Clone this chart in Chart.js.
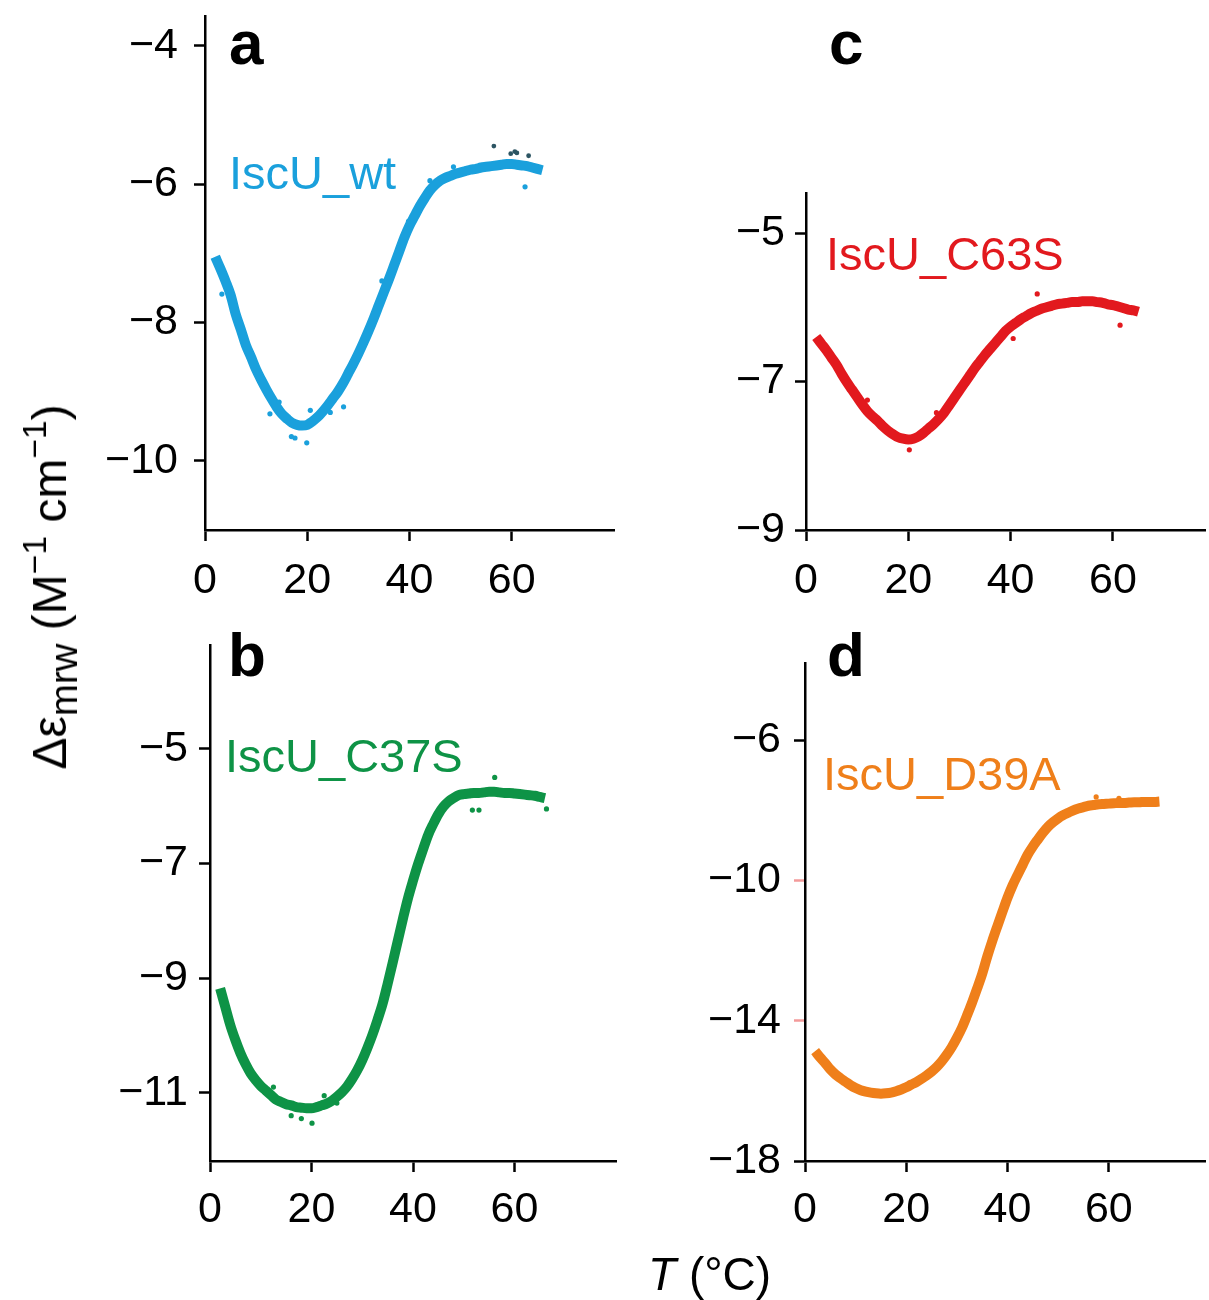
<!DOCTYPE html>
<html><head><meta charset="utf-8">
<script src="https://cdn.jsdelivr.net/npm/chart.js@4/dist/chart.umd.min.js"></script>
<style>
html,body{margin:0;padding:0;background:#fff;}
body{width:1209px;height:1300px;position:relative;overflow:hidden;font-family:"Liberation Sans",Arial,sans-serif;}
canvas{position:absolute;}
.lbl{position:absolute;white-space:nowrap;line-height:1;}
.panel{font-weight:bold;font-size:62px;color:#000;}
.series{font-size:47px;}
.ytitle{font-size:48px;color:#000;transform:translate(-50%,-50%) rotate(-90deg);}
.ytitle sub,.ytitle sup{line-height:0;position:relative;vertical-align:baseline;}
.ytitle sub{font-size:80%;top:0.28em;}
.ytitle sup{font-size:70%;top:-0.6em;}
.xtitle{font-size:46px;color:#000;}
</style></head><body>
<canvas id="ca" style="left:0;top:0" width="620" height="620"></canvas>
<canvas id="cc" style="left:600px;top:0" width="609" height="620"></canvas>
<canvas id="cb" style="left:0;top:620px" width="620" height="680"></canvas>
<canvas id="cd" style="left:600px;top:620px" width="609" height="680"></canvas>

<div class="lbl panel" style="left:229px;top:12px">a</div>
<div class="lbl panel" style="left:829px;top:12px">c</div>
<div class="lbl panel" style="left:228px;top:624px">b</div>
<div class="lbl panel" style="left:827px;top:624px">d</div>

<div class="lbl series" style="left:229px;top:149px;color:#1aa0dc">IscU_wt</div>
<div class="lbl series" style="left:826px;top:230px;color:#e2191e">IscU_C63S</div>
<div class="lbl series" style="left:225px;top:732px;color:#0e9346">IscU_C37S</div>
<div class="lbl series" style="left:823px;top:750px;color:#ef7f1a">IscU_D39A</div>

<div class="lbl ytitle" style="left:50px;top:587px">Δε<sub>mrw</sub> (M<sup>−1</sup> cm<sup>−1</sup>)</div>
<div class="lbl xtitle" style="left:648px;top:1251px"><i>T</i> (°C)</div>

<script>
// ---- data ----
const xTicks = [0, 20, 40, 60];
const yTicksA = [-10, -8, -6, -4];
const yTicksB = [-11, -9, -7, -5];
const yTicksC = [-9, -7, -5];
const yTicksD = [-18, -14, -10, -6];

const tempA = [2,3,4,5,6,7,8,9,10,11,12,13,14,15,16,17,18,19,20,21,22,23,24,25,26,27,28,29,30,31,32,33,34,35,36,37,38,39,40,41,42,43,44,45,46,47,48,49,50,51,52,53,54,55,56,57,58,59,60,61,62,63,64,65,66];
const wtVals = [-7.05,-7.22,-7.40,-7.60,-7.88,-8.10,-8.33,-8.50,-8.68,-8.83,-8.97,-9.10,-9.22,-9.32,-9.39,-9.45,-9.48,-9.49,-9.48,-9.43,-9.37,-9.29,-9.20,-9.10,-9.00,-8.88,-8.74,-8.60,-8.45,-8.29,-8.12,-7.94,-7.75,-7.56,-7.37,-7.17,-6.97,-6.77,-6.60,-6.46,-6.32,-6.20,-6.09,-6.01,-5.95,-5.91,-5.88,-5.85,-5.83,-5.81,-5.79,-5.78,-5.76,-5.75,-5.74,-5.73,-5.72,-5.71,-5.71,-5.72,-5.73,-5.74,-5.76,-5.78,-5.80];
const wtOutT = [3.3, 12.7, 16.9, 17.6, 19.9, 20.6, 27.1, 34.6, 39.8, 44.0, 48.6, 62.6, 14.5, 24.5];
const wtOutV = [-7.59, -9.32, -9.65, -9.67, -9.74, -9.27, -9.22, -7.40, -6.54, -5.95, -5.75, -6.04, -9.15, -9.30];
const wtDarkT = [56.5, 59.8, 60.6, 61.0, 63.3];
const wtDarkV = [-5.45, -5.56, -5.53, -5.55, -5.59];

const tempB = [2,3,4,5,6,7,8,9,10,11,12,13,14,15,16,17,18,19,20,21,22,23,24,25,26,27,28,29,30,31,32,33,34,35,36,37,38,39,40,41,42,43,44,45,46,47,48,49,50,51,52,53,54,55,56,57,58,59,60,61,62,63,64,65,66];
const c37Vals = [-9.18,-9.50,-9.82,-10.08,-10.31,-10.50,-10.66,-10.78,-10.88,-10.96,-11.04,-11.12,-11.16,-11.20,-11.22,-11.25,-11.26,-11.27,-11.27,-11.25,-11.22,-11.19,-11.14,-11.07,-10.99,-10.89,-10.76,-10.61,-10.43,-10.22,-9.99,-9.73,-9.45,-9.10,-8.73,-8.35,-7.97,-7.61,-7.30,-7.01,-6.75,-6.50,-6.31,-6.14,-6.01,-5.92,-5.86,-5.81,-5.79,-5.78,-5.77,-5.77,-5.76,-5.75,-5.75,-5.76,-5.77,-5.77,-5.78,-5.79,-5.80,-5.81,-5.82,-5.84,-5.86];
const c37OutT = [56.1, 53.0, 51.7, 66.3, 20.1, 18.0, 12.5, 22.5, 16.0, 25.0];
const c37OutV = [-5.50, -6.07, -6.07, -6.05, -11.53, -11.45, -10.90, -11.05, -11.40, -11.18];

const tempC = [2,3,4,5,6,7,8,9,10,11,12,13,14,15,16,17,18,19,20,21,22,23,24,25,26,27,28,29,30,31,32,33,34,35,36,37,38,39,40,41,42,43,44,45,46,47,48,49,50,51,52,53,54,55,56,57,58,59,60,61,62,63,64,65];
const c63Vals = [-6.40,-6.49,-6.58,-6.68,-6.78,-6.90,-7.01,-7.11,-7.21,-7.31,-7.40,-7.47,-7.53,-7.60,-7.66,-7.71,-7.75,-7.77,-7.78,-7.77,-7.74,-7.69,-7.63,-7.57,-7.50,-7.42,-7.32,-7.22,-7.12,-7.02,-6.92,-6.82,-6.73,-6.64,-6.56,-6.48,-6.40,-6.32,-6.26,-6.21,-6.16,-6.12,-6.08,-6.05,-6.02,-6.00,-5.98,-5.96,-5.95,-5.94,-5.93,-5.93,-5.92,-5.92,-5.92,-5.93,-5.94,-5.96,-5.97,-5.99,-6.01,-6.03,-6.04,-6.06];
const c63OutT = [45.2, 61.4, 20.2, 40.5, 12.0, 25.5];
const c63OutV = [-5.82, -6.24, -7.92, -6.42, -7.25, -7.42];

const tempD = [2,3,4,5,6,7,8,9,10,11,12,13,14,15,16,17,18,19,20,21,22,23,24,25,26,27,28,29,30,31,32,33,34,35,36,37,38,39,40,41,42,43,44,45,46,47,48,49,50,51,52,53,54,55,56,57,58,59,60,61,62,63,64,65,66,67,68,69,70];
const d39Vals = [-14.87,-15.05,-15.21,-15.39,-15.53,-15.64,-15.74,-15.84,-15.92,-15.98,-16.02,-16.05,-16.07,-16.08,-16.07,-16.05,-16.01,-15.96,-15.90,-15.82,-15.75,-15.66,-15.56,-15.45,-15.32,-15.16,-14.97,-14.75,-14.49,-14.20,-13.85,-13.48,-13.08,-12.66,-12.17,-11.72,-11.30,-10.89,-10.49,-10.14,-9.84,-9.55,-9.26,-9.03,-8.83,-8.64,-8.47,-8.34,-8.23,-8.14,-8.07,-8.00,-7.95,-7.91,-7.87,-7.85,-7.83,-7.82,-7.81,-7.80,-7.79,-7.79,-7.78,-7.77,-7.77,-7.76,-7.76,-7.76,-7.75];
const d39OutT = [57.5, 62.0];
const d39OutV = [-7.62, -7.66];

// ---- drawing ----
const FONT = '"Liberation Sans", Arial, sans-serif';
function fmt(v){ return v < 0 ? '\u2212' + Math.abs(v) : String(v); }
function pts(t, v){ return t.map((x, i) => ({x: x, y: v[i]})); }

function panel(id, c){
  const sets = [
    {type:'line', data: pts(c.t, c.v), borderColor: c.color, borderWidth: c.bw, pointRadius: 0,
     cubicInterpolationMode: 'monotone', fill: false, order: 2},
    {type:'scatter', data: pts(c.ot, c.ov), backgroundColor: c.color, borderWidth: 0, pointRadius: 2.6, order: 1}
  ];
  if (c.dt) sets.push({type:'scatter', data: pts(c.dt, c.dv), backgroundColor: '#2d5563', borderWidth: 0, pointRadius: 2.4, order: 0});
  return new Chart(document.getElementById(id), {
    type: 'scatter',
    data: {datasets: sets},
    options: {
      responsive: false, animation: false, devicePixelRatio: 1,
      layout: {padding: c.pad},
      plugins: {legend: {display: false}, tooltip: {enabled: false}},
      scales: {
        x: {type: 'linear', min: 0, max: c.xmax,
            afterFit(s){ s.height = c.xh; s.paddingLeft = 0; s.paddingRight = 0; },
            afterBuildTicks(s){ s.ticks = xTicks.map(v => ({value: v})); },
            border: {display: true, color: '#000', width: 2.5},
            grid: {drawOnChartArea: false, drawTicks: true, tickLength: 11, tickWidth: 2.5, tickColor: '#000'},
            ticks: {font: {family: FONT, size: 43}, color: '#000', padding: c.xpad, maxRotation: 0, autoSkip: false, callback: fmt}},
        y: {type: 'linear', min: c.ymin, max: c.ymax,
            afterFit(s){ s.width = c.yw; s.paddingTop = 0; s.paddingBottom = 0; },
            afterBuildTicks(s){ s.ticks = c.yt.map(v => ({value: v})); },
            border: {display: true, color: '#000', width: 2.5},
            grid: {drawOnChartArea: false, drawTicks: true, tickLength: 11, tickWidth: 2.5,
                   tickColor: c.tickColor || '#000'},
            ticks: {font: {family: FONT, size: 43}, color: '#000', padding: c.ypad, autoSkip: false, callback: fmt}}
      }
    }
  });
}

panel('ca', {t: tempA, v: wtVals, ot: wtOutT, ov: wtOutV, dt: wtDarkT, dv: wtDarkV, color: '#1aa0dc', bw: 10,
  xmax: 80, ymin: -11, ymax: -3.57, yt: yTicksA, yw: 205, xh: 90, pad: {top: 16, right: 6, left: 0, bottom: 0}, xpad: 14, ypad: 16});
panel('cc', {t: tempC, v: c63Vals, ot: c63OutT, ov: c63OutV, color: '#e2191e', bw: 10,
  xmax: 78, ymin: -9, ymax: -4.46, yt: yTicksC, yw: 206, xh: 90, pad: {top: 193, right: 3, left: 0, bottom: 0}, xpad: 14, ypad: 10});
panel('cb', {t: tempB, v: c37Vals, ot: c37OutT, ov: c37OutV, color: '#0e9346', bw: 10,
  xmax: 80, ymin: -12.19, ymax: -3.19, yt: yTicksB, yw: 210, xh: 139, pad: {top: 25, right: 0, left: 0, bottom: 0}, xpad: 12, ypad: 11});
panel('cd', {t: tempD, v: d39Vals, ot: d39OutT, ov: d39OutV, color: '#ef7f1a', bw: 10,
  xmax: 79, ymin: -18, ymax: -3.80, yt: yTicksD, yw: 205, xh: 139, pad: {top: 43, right: 0, left: 0, bottom: 0}, xpad: 12, ypad: 13,
  tickColor: (ctx) => (ctx.tick && (ctx.tick.value === -10 || ctx.tick.value === -14)) ? '#f39a9a' : '#000'});
</script>
</body></html>
